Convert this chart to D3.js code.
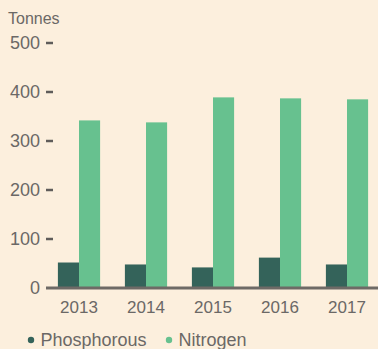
<!DOCTYPE html>
<html>
<head>
<meta charset="utf-8">
<script src="https://cdn.jsdelivr.net/npm/d3@7"></script>
<style>
  html, body { margin: 0; padding: 0; background: #fcefdd; }
  svg { display: block; font-family: "Liberation Sans", Arial, Helvetica, sans-serif; }
</style>
</head>
<body>
<svg id="chart" width="378" height="349"></svg>
<script>
const years = ["2013", "2014", "2015", "2016", "2017"];
const phosphorous = [51, 47, 41, 61, 47];
const nitrogen = [341, 337, 388, 386, 384];
const yTicks = [0, 100, 200, 300, 400, 500];
const seriesNames = ["Phosphorous", "Nitrogen"];
const seriesColors = ["#34635a", "#67c18f"];

const textColor = "#6b6866";
const svg = d3.select("#chart");

const x = d3.scaleBand().domain(years).range([45.5, 380.5]).paddingInner(0.37).paddingOuter(0.185);
const xSub = d3.scaleBand().domain(seriesNames).range([0, x.bandwidth()]);
const y = d3.scaleLinear().domain([0, 500]).range([287.5, 42.5]);

// y axis: short dash ticks with labels to the left
const yAxis = svg.append("g")
  .attr("transform", "translate(46,0)")
  .call(d3.axisLeft(y).tickValues(yTicks).tickSize(0).tickPadding(6));
yAxis.select(".domain").remove();
yAxis.selectAll("text")
  .attr("fill", textColor)
  .style("font-size", "18px")
  .attr("dy", "0.35em");
yAxis.selectAll(".tick").filter(d => d !== 0)
  .append("line")
  .attr("x1", 0).attr("x2", 7)
  .attr("stroke", "#5f5c5a").attr("stroke-width", 2.5);

svg.append("text")
  .attr("x", 8).attr("y", 24)
  .attr("fill", textColor)
  .style("font-size", "16px")
  .text("Tonnes");

// bars
const groups = svg.append("g").selectAll("g")
  .data(years.map((yr, i) => ({ yr, vals: [phosphorous[i], nitrogen[i]] })))
  .join("g")
  .attr("transform", d => `translate(${x(d.yr)},0)`);

groups.selectAll("rect")
  .data(d => d.vals.map((v, j) => ({ name: seriesNames[j], v, c: seriesColors[j] })))
  .join("rect")
  .attr("x", d => xSub(d.name))
  .attr("width", xSub.bandwidth())
  .attr("y", d => y(d.v))
  .attr("height", d => y(0) - y(d.v))
  .attr("fill", d => d.c);

// x axis baseline and year labels
const xAxis = svg.append("g")
  .attr("transform", `translate(0,${y(0)})`)
  .call(d3.axisBottom(x).tickSize(0).tickPadding(0));
xAxis.select(".domain").remove();
xAxis.selectAll("text")
  .attr("fill", textColor)
  .attr("dy", null)
  .attr("y", 25.5)
  .style("font-size", "17px");
svg.append("line")
  .attr("x1", 46).attr("x2", 378)
  .attr("y1", y(0) + 0.5).attr("y2", y(0) + 0.5)
  .attr("stroke", "#6e6a66").attr("stroke-width", 3);

// legend
const legendX = [31, 169];
const legend = svg.append("g").selectAll("g")
  .data(seriesNames)
  .join("g")
  .attr("transform", (d, i) => `translate(${legendX[i]},340)`);
legend.append("circle")
  .attr("r", 3.2).attr("cy", 0)
  .attr("fill", (d, i) => seriesColors[i]);
legend.append("text")
  .attr("x", 9.5).attr("y", 6)
  .attr("fill", textColor)
  .style("font-size", "18px")
  .text(d => d);
</script>
</body>
</html>
